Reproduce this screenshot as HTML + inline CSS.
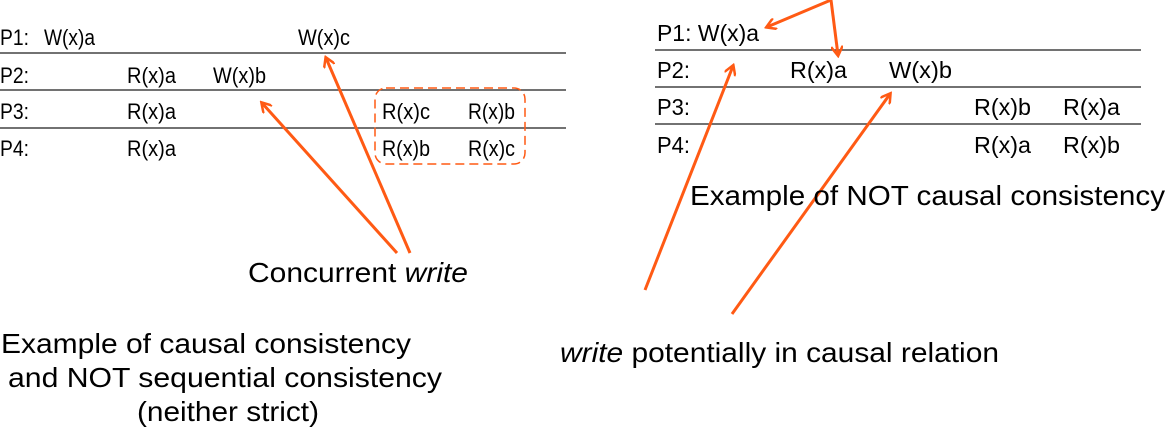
<!DOCTYPE html>
<html><head><style>html,body{margin:0;padding:0;background:#fff}svg{display:block}text{font-family:"Liberation Sans",sans-serif;fill:#000}</style></head>
<body>
<svg width="1167" height="431" viewBox="0 0 1167 431" xmlns="http://www.w3.org/2000/svg">
<defs><marker id="a" markerWidth="12" markerHeight="12" refX="9" refY="6" orient="auto" markerUnits="userSpaceOnUse" viewBox="0 0 12 12"><path d="M0,0 L10,6 L0,12" fill="none" stroke="#ff5a14" stroke-width="2.5"/></marker></defs>
<g stroke="#444" stroke-width="1.5">
<line x1="0" y1="53" x2="566" y2="53"/><line x1="0" y1="90" x2="566" y2="90"/><line x1="0" y1="128" x2="566" y2="128"/>
<line x1="655" y1="50" x2="1141" y2="50"/><line x1="655" y1="87" x2="1141" y2="87"/><line x1="655" y1="124" x2="1141" y2="124"/>
</g>
<g font-size="22" lengthAdjust="spacingAndGlyphs">
<text x="0" y="45" textLength="29" lengthAdjust="spacingAndGlyphs">P1:</text><text x="44" y="45" textLength="51" lengthAdjust="spacingAndGlyphs">W(x)a</text><text x="298" y="45" textLength="52" lengthAdjust="spacingAndGlyphs">W(x)c</text>
<text x="0" y="83" textLength="29" lengthAdjust="spacingAndGlyphs">P2:</text><text x="127" y="83" textLength="49" lengthAdjust="spacingAndGlyphs">R(x)a</text><text x="213" y="83" textLength="53" lengthAdjust="spacingAndGlyphs">W(x)b</text>
<text x="0" y="119" textLength="29" lengthAdjust="spacingAndGlyphs">P3:</text><text x="127" y="119" textLength="49" lengthAdjust="spacingAndGlyphs">R(x)a</text><text x="382" y="119" textLength="48" lengthAdjust="spacingAndGlyphs">R(x)c</text><text x="468" y="119" textLength="47" lengthAdjust="spacingAndGlyphs">R(x)b</text>
<text x="0" y="156" textLength="29" lengthAdjust="spacingAndGlyphs">P4:</text><text x="127" y="156" textLength="49" lengthAdjust="spacingAndGlyphs">R(x)a</text><text x="382" y="156" textLength="48" lengthAdjust="spacingAndGlyphs">R(x)b</text><text x="468" y="156" textLength="47" lengthAdjust="spacingAndGlyphs">R(x)c</text>
</g>
<g font-size="23">
<text x="657" y="41" textLength="102" lengthAdjust="spacingAndGlyphs">P1: W(x)a</text>
<text x="657" y="78" textLength="33" lengthAdjust="spacingAndGlyphs">P2:</text><text x="790" y="78" textLength="57" lengthAdjust="spacingAndGlyphs">R(x)a</text><text x="889" y="78" textLength="63" lengthAdjust="spacingAndGlyphs">W(x)b</text>
<text x="657" y="115" textLength="33" lengthAdjust="spacingAndGlyphs">P3:</text><text x="974" y="115" textLength="57" lengthAdjust="spacingAndGlyphs">R(x)b</text><text x="1063" y="115" textLength="57" lengthAdjust="spacingAndGlyphs">R(x)a</text>
<text x="657" y="153" textLength="33" lengthAdjust="spacingAndGlyphs">P4:</text><text x="974" y="153" textLength="57" lengthAdjust="spacingAndGlyphs">R(x)a</text><text x="1063" y="153" textLength="57" lengthAdjust="spacingAndGlyphs">R(x)b</text>
</g>
<rect x="375" y="88" width="150" height="76" rx="11" fill="none" stroke="#ff5a14" stroke-width="1.5" stroke-dasharray="9,5"/>
<g stroke="#ff5a14" stroke-width="3" fill="none" marker-end="url(#a)">
<line x1="397" y1="253" x2="262" y2="103"/>
<line x1="410" y1="253" x2="326" y2="58"/>
<line x1="831" y1="0" x2="767" y2="27"/>
<line x1="831" y1="0" x2="838" y2="55"/>
<line x1="645" y1="290" x2="733" y2="66"/>
<line x1="732" y1="314" x2="890" y2="94"/>
</g>
<g font-size="28">
<text x="248" y="282" textLength="220" lengthAdjust="spacingAndGlyphs">Concurrent <tspan font-style="italic">write</tspan></text>
<text x="1" y="353" textLength="410" lengthAdjust="spacingAndGlyphs">Example of causal consistency</text>
<text x="8" y="387" textLength="434" lengthAdjust="spacingAndGlyphs">and NOT sequential consistency</text>
<text x="137" y="421" textLength="182" lengthAdjust="spacingAndGlyphs">(neither strict)</text>
<text x="560" y="362" textLength="439" lengthAdjust="spacingAndGlyphs"><tspan font-style="italic">write</tspan> potentially in causal relation</text>
<text x="690" y="205" textLength="475" lengthAdjust="spacingAndGlyphs">Example of NOT causal consistency</text>
</g>
</svg>
</body></html>
